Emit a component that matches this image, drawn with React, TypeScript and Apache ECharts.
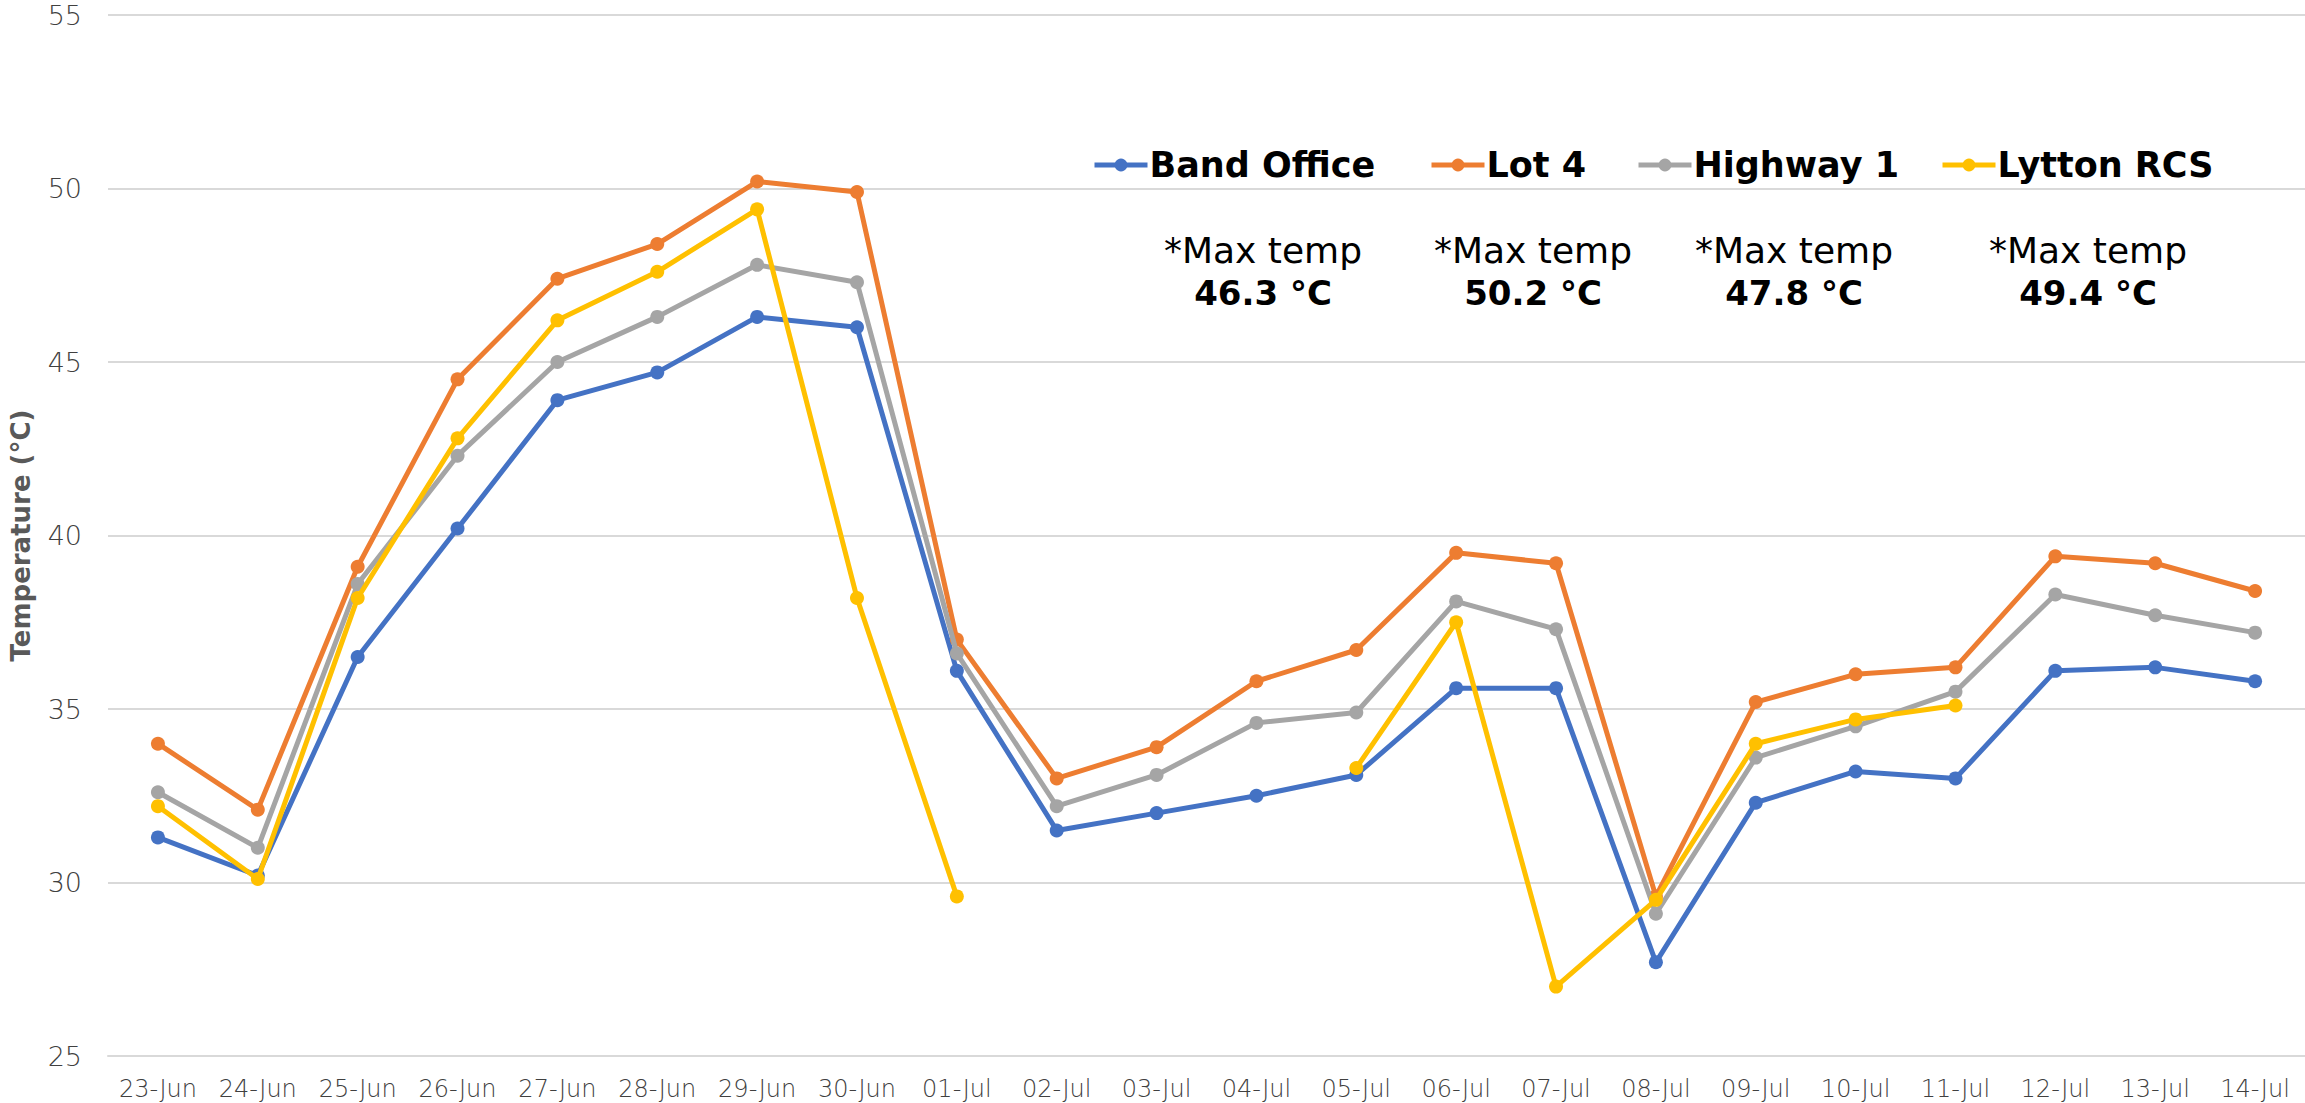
import React, { useEffect, useRef } from "react";
import * as echarts from "echarts";

const categories = [
  "23-Jun", "24-Jun", "25-Jun", "26-Jun", "27-Jun", "28-Jun", "29-Jun", "30-Jun",
  "01-Jul", "02-Jul", "03-Jul", "04-Jul", "05-Jul", "06-Jul", "07-Jul", "08-Jul",
  "09-Jul", "10-Jul", "11-Jul", "12-Jul", "13-Jul", "14-Jul",
];

const bandOffice = [31.3, 30.2, 36.5, 40.2, 43.9, 44.7, 46.3, 46.0, 36.1, 31.5, 32.0, 32.5, 33.1, 35.6, 35.6, 27.7, 32.3, 33.2, 33.0, 36.1, 36.2, 35.8];
const lot4 = [34.0, 32.1, 39.1, 44.5, 47.4, 48.4, 50.2, 49.9, 37.0, 33.0, 33.9, 35.8, 36.7, 39.5, 39.2, 29.6, 35.2, 36.0, 36.2, 39.4, 39.2, 38.4];
const highway1 = [32.6, 31.0, 38.6, 42.3, 45.0, 46.3, 47.8, 47.3, 36.6, 32.2, 33.1, 34.6, 34.9, 38.1, 37.3, 29.1, 33.6, 34.5, 35.5, 38.3, 37.7, 37.2];
const lyttonRCS = [32.2, 30.1, 38.2, 42.8, 46.2, 47.6, 49.4, 38.2, 29.6, null, null, null, 33.3, 37.5, 27.0, 29.5, 34.0, 34.7, 35.1, null, null, null];

const seriesNames = ["Band Office", "Lot 4", "Highway 1", "Lytton RCS"];
const seriesColors = ["#4472C4", "#ED7D31", "#A5A5A5", "#FFC000"];
const maxTemps = ["46.3 °C", "50.2 °C", "47.8 °C", "49.4 °C"];

const yTicks = { min: 25, max: 55, interval: 5 };

const legendLeft = [1092, 1429, 1636, 1940];
const annotX = [1263, 1533, 1794, 2088];

export default function App() {
  const ref = useRef<HTMLDivElement>(null);

  useEffect(() => {
    if (!ref.current) return;
    const chart = echarts.init(ref.current, null, { renderer: "svg" });
    const allData = [bandOffice, lot4, highway1, lyttonRCS];
    const option: any = {
      animation: false,
      backgroundColor: "#ffffff",
      grid: { left: 98, right: -2, top: 15, bottom: 47, containLabel: false },
      legend: seriesNames.map((n, i) => ({
        data: [n],
        left: legendLeft[i],
        top: 147,
        padding: 0,
        itemWidth: 53,
        itemHeight: 16,
        itemGap: 7,
        lineStyle: { width: 5 },
        textStyle: {
          fontFamily: "DejaVu Sans",
          fontWeight: "bold",
          fontSize: 35,
          lineHeight: 36,
          color: "#000000",
          padding: [0, 0, 0, -3],
        },
      })),
      xAxis: {
        type: "category",
        data: categories,
        boundaryGap: true,
        axisLine: { show: true, lineStyle: { color: "#D9D9D9", width: 2 } },
        axisTick: { show: false },
        axisLabel: {
          interval: 0,
          margin: 21,
          fontFamily: "DejaVu Sans",
          fontWeight: 300,
          fontSize: 24,
          color: "#404040",
        },
      },
      yAxis: {
        type: "value",
        min: yTicks.min,
        max: yTicks.max,
        interval: yTicks.interval,
        name: "Temperature (°C)",
        nameLocation: "middle",
        nameGap: 74,
        nameTextStyle: {
          fontFamily: "DejaVu Sans",
          fontWeight: "bold",
          fontSize: 26,
          color: "#595959",
        },
        axisLine: { show: false },
        axisTick: { show: false },
        splitLine: { lineStyle: { color: "#D9D9D9", width: 2 } },
        axisLabel: {
          margin: 26,
          fontFamily: "DejaVu Sans",
          fontWeight: 300,
          fontSize: 27,
          color: "#404040",
        },
      },
      series: seriesNames.map((n, i) => ({
        name: n,
        type: "line",
        data: allData[i],
        connectNulls: false,
        symbol: "circle",
        symbolSize: 14,
        color: seriesColors[i],
        lineStyle: { color: seriesColors[i], width: 5 },
        itemStyle: { color: seriesColors[i] },
        z: 2 + i,
      })),
      graphic: annotX.flatMap((x, i) => [
        {
          type: "text",
          x,
          y: 250,
          style: {
            text: "*Max temp",
            fontFamily: "DejaVu Sans",
            fontSize: 36,
            fill: "#000000",
            textAlign: "center",
            textVerticalAlign: "middle",
          },
        },
        {
          type: "text",
          x,
          y: 293,
          style: {
            text: maxTemps[i],
            fontFamily: "DejaVu Sans",
            fontWeight: "bold",
            fontSize: 34,
            fill: "#000000",
            textAlign: "center",
            textVerticalAlign: "middle",
          },
        },
      ]),
    };
    chart.setOption(option);
    return () => chart.dispose();
  }, []);

  return (
    <div
      ref={ref}
      style={{ position: "fixed", left: 0, top: 0, width: 2305, height: 1103, background: "#fff" }}
    />
  );
}
